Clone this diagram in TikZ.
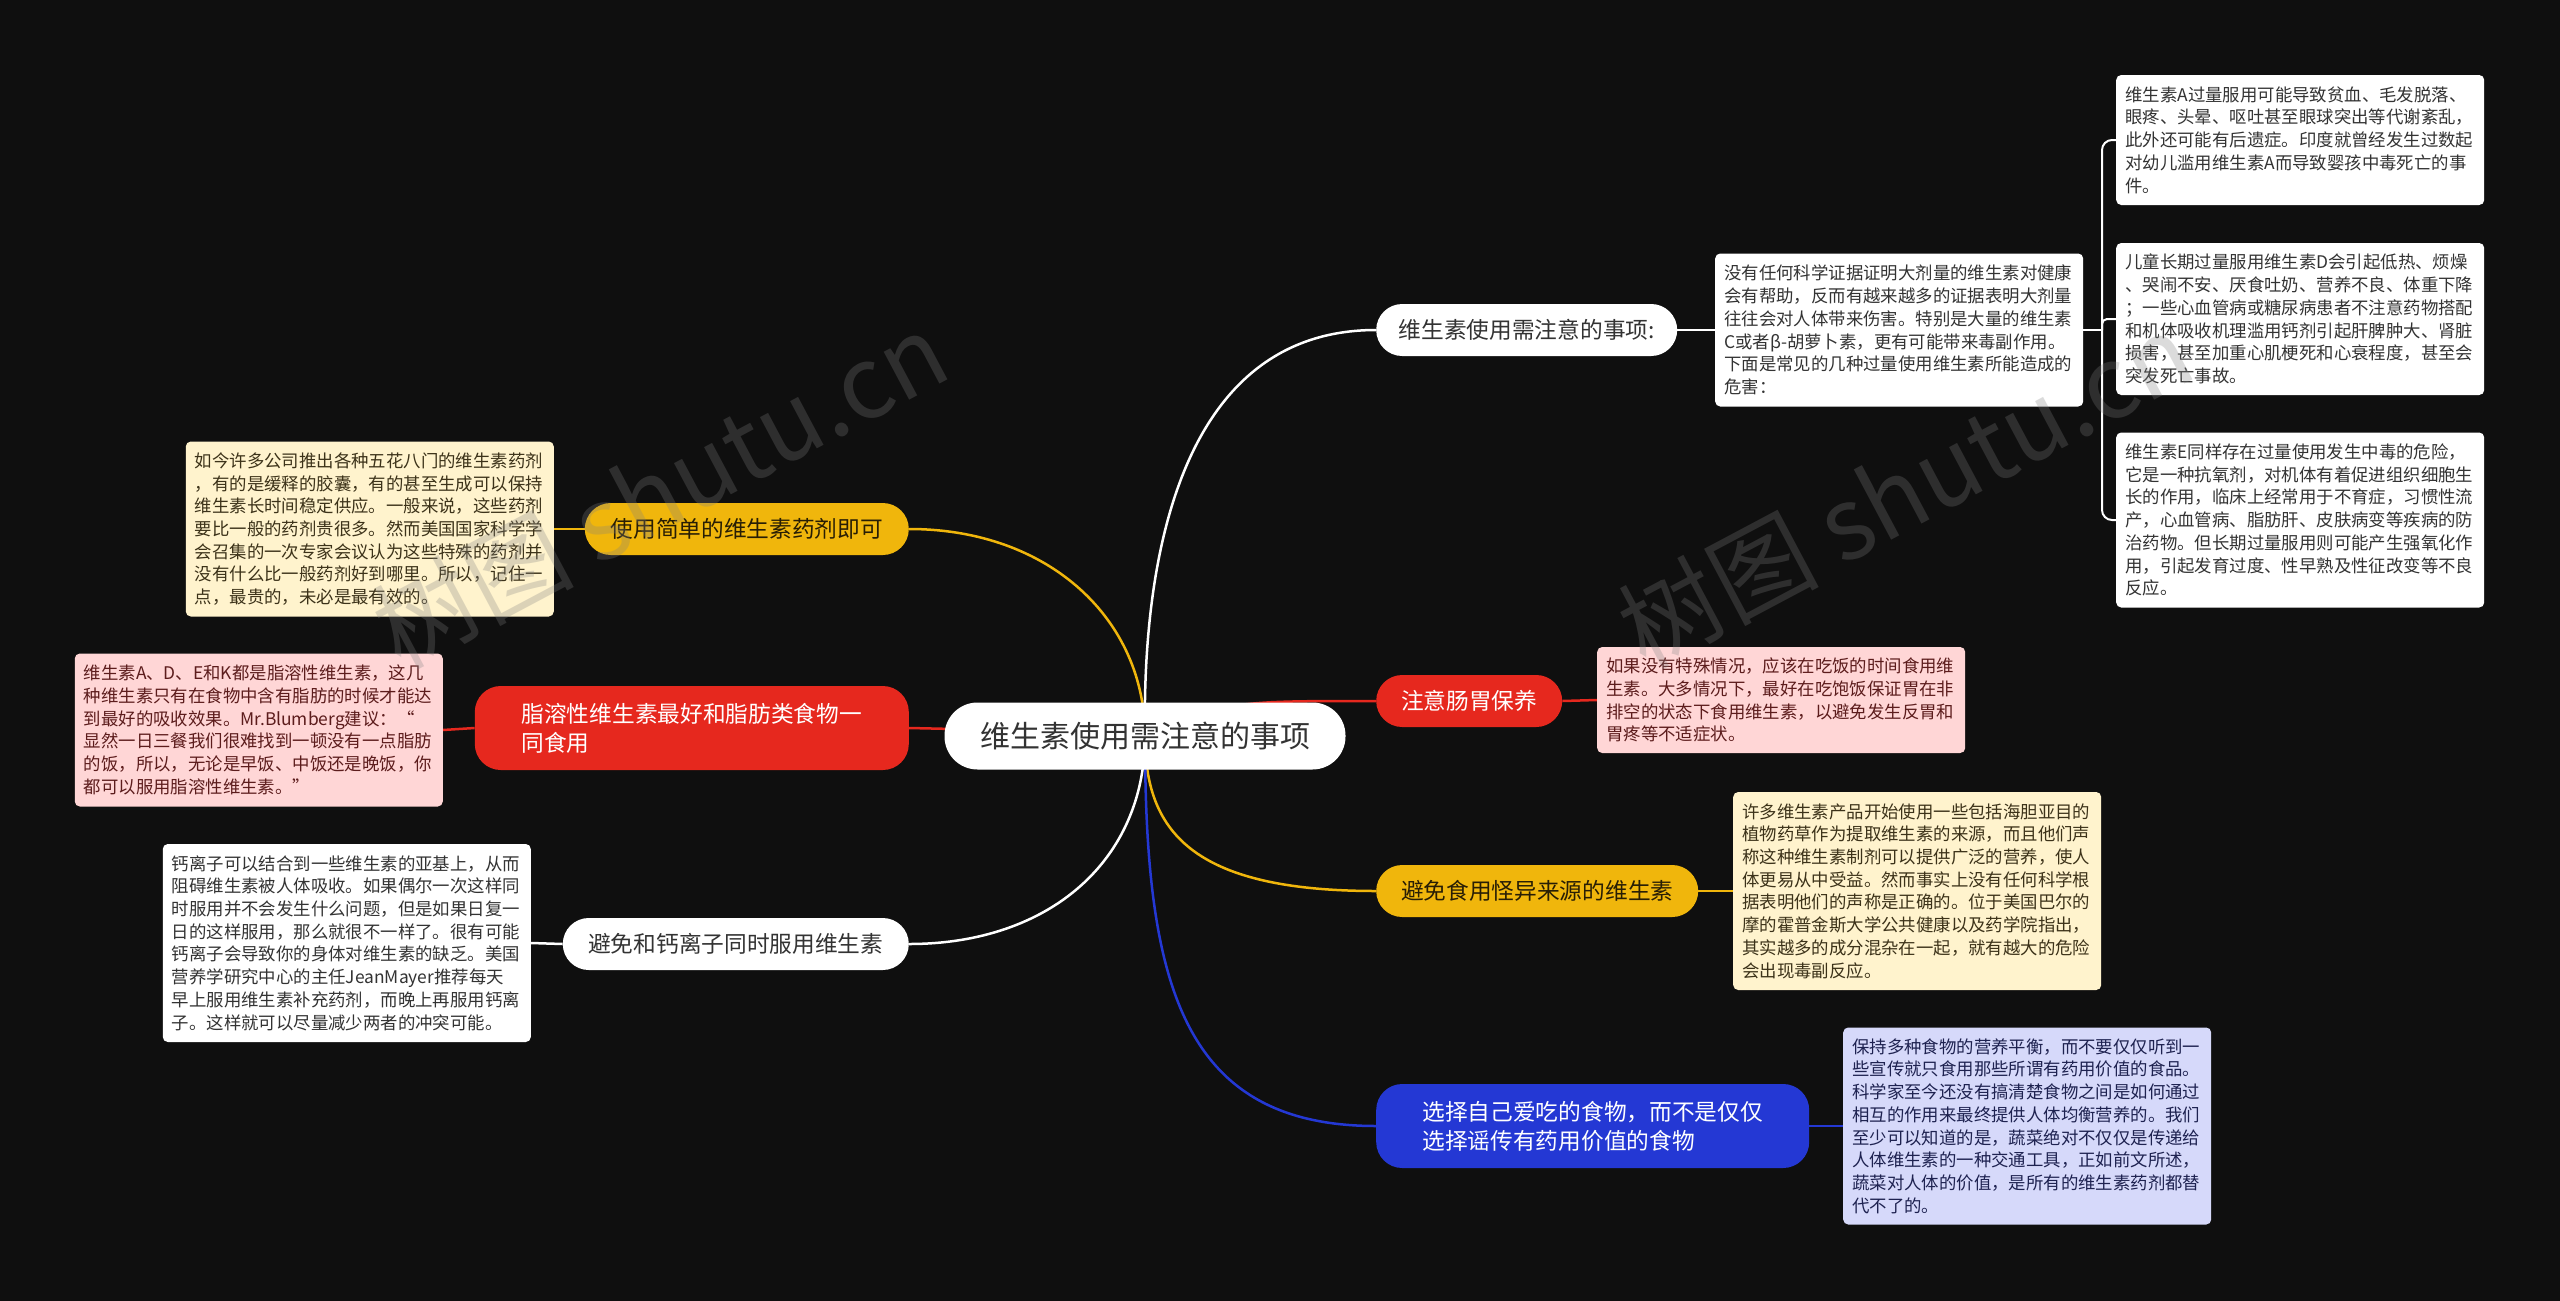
\documentclass[tikz,border=0pt]{standalone}
\usepackage{fontspec}
\setmainfont{Noto Sans CJK SC}
\definecolor{bgc}{RGB}{15,15,15}
\definecolor{redc}{RGB}{230,40,30}
\definecolor{yelc}{RGB}{240,182,12}
\definecolor{bluec}{RGB}{36,56,212}
\definecolor{txtd}{RGB}{51,51,51}
\definecolor{txty}{RGB}{40,30,5}
\definecolor{pinkc}{RGB}{255,214,214}
\definecolor{creamc}{RGB}{255,243,205}
\definecolor{lavc}{RGB}{214,217,250}
\definecolor{txtpink}{RGB}{92,28,28}
\definecolor{txtcream}{RGB}{60,50,25}
\definecolor{txtlav}{RGB}{30,34,80}
\pgfdeclarelayer{bg}
\pgfsetlayers{bg,main}
\tikzset{
  pill/.style={rounded corners=26pt, minimum height=52pt, inner sep=0pt,
    font=\fontsize{22.7pt}{29pt}\selectfont, align=center},
  card/.style={rounded corners=5pt, text width=350pt, inner xsep=9pt, inner ysep=0pt,
    align=left, font=\fontsize{17.4pt}{22.7pt}\selectfont},
  conn/.style={line width=2.5pt},
  brk/.style={line width=2pt, white},
  wmark/.style={rotate=28, font=\fontsize{100pt}{100pt}\selectfont, text=gray, opacity=0.28},
}
\begin{document}
\begin{tikzpicture}[x=1pt,y=-1pt]
\useasboundingbox (0,0) rectangle (2560,1301);
% center
\node[pill, fill=white, text=txtd, minimum width=401pt, minimum height=67pt, rounded corners=33pt,
  font=\fontsize{30pt}{36pt}\selectfont] (c) at (1145,736) {维生素使用需注意的事项};
% right branches
\node[pill, fill=white, text=txtd, minimum width=301pt, anchor=west] (b1) at (1376,330) {维生素使用需注意的事项:};
\node[pill, fill=redc, text=white, minimum width=186pt, anchor=west] (b2) at (1376,701) {注意肠胃保养};
\node[pill, fill=yelc, text=txty, minimum width=322pt, anchor=west] (b3) at (1376,891) {避免食用怪异来源的维生素};
\node[pill, fill=bluec, text=white, minimum width=433pt, minimum height=84pt, anchor=west, align=left] (b4) at (1376,1126) {选择自己爱吃的食物，而不是仅仅\\选择谣传有药用价值的食物};
% left branches
\node[pill, fill=yelc, text=txty, minimum width=324pt, anchor=east] (b5) at (909,529) {使用简单的维生素药剂即可};
\node[pill, fill=redc, text=white, minimum width=434pt, minimum height=84pt, anchor=east, align=left] (b6) at (909,728) {脂溶性维生素最好和脂肪类食物一\\同食用};
\node[pill, fill=white, text=txtd, minimum width=346pt, anchor=east] (b7) at (909,944) {避免和钙离子同时服用维生素};
% cards right
\node[card, fill=white, text=txtd, minimum height=153pt, anchor=west] (R1) at (1715,330) {没有任何科学证据证明大剂量的维生素对健康\\会有帮助，反而有越来越多的证据表明大剂量\\往往会对人体带来伤害。特别是大量的维生素\\C或者β-胡萝卜素，更有可能带来毒副作用。\\下面是常见的几种过量使用维生素所能造成的\\危害：};
\node[card, fill=white, text=txtd, minimum height=130pt, anchor=west] (R1a) at (2116,140) {维生素A过量服用可能导致贫血、毛发脱落、\\眼疼、头晕、呕吐甚至眼球突出等代谢紊乱，\\此外还可能有后遗症。印度就曾经发生过数起\\对幼儿滥用维生素A而导致婴孩中毒死亡的事\\件。};
\node[card, fill=white, text=txtd, minimum height=152pt, anchor=west] (R1b) at (2116,319) {儿童长期过量服用维生素D会引起低热、烦燥\\、哭闹不安、厌食吐奶、营养不良、体重下降\\；一些心血管病或糖尿病患者不注意药物搭配\\和机体吸收机理滥用钙剂引起肝脾肿大、肾脏\\损害，甚至加重心肌梗死和心衰程度，甚至会\\突发死亡事故。};
\node[card, fill=white, text=txtd, minimum height=175pt, anchor=west] (R1c) at (2116,520) {维生素E同样存在过量使用发生中毒的危险，\\它是一种抗氧剂，对机体有着促进组织细胞生\\长的作用，临床上经常用于不育症，习惯性流\\产，心血管病、脂肪肝、皮肤病变等疾病的防\\治药物。但长期过量服用则可能产生强氧化作\\用，引起发育过度、性早熟及性征改变等不良\\反应。};
\node[card, fill=pinkc, text=txtpink, minimum height=106pt, anchor=west] (R2) at (1597,700) {如果没有特殊情况，应该在吃饭的时间食用维\\生素。大多情况下，最好在吃饱饭保证胃在非\\排空的状态下食用维生素，以避免发生反胃和\\胃疼等不适症状。};
\node[card, fill=creamc, text=txtcream, minimum height=198pt, anchor=west] (R3) at (1733,891) {许多维生素产品开始使用一些包括海胆亚目的\\植物药草作为提取维生素的来源，而且他们声\\称这种维生素制剂可以提供广泛的营养，使人\\体更易从中受益。然而事实上没有任何科学根\\据表明他们的声称是正确的。位于美国巴尔的\\摩的霍普金斯大学公共健康以及药学院指出，\\其实越多的成分混杂在一起，就有越大的危险\\会出现毒副反应。};
\node[card, fill=lavc, text=txtlav, minimum height=197pt, anchor=west] (R4) at (1843,1126) {保持多种食物的营养平衡，而不要仅仅听到一\\些宣传就只食用那些所谓有药用价值的食品。\\科学家至今还没有搞清楚食物之间是如何通过\\相互的作用来最终提供人体均衡营养的。我们\\至少可以知道的是，蔬菜绝对不仅仅是传递给\\人体维生素的一种交通工具，正如前文所述，\\蔬菜对人体的价值，是所有的维生素药剂都替\\代不了的。};
% cards left
\node[card, fill=creamc, text=txtcream, minimum height=175pt, anchor=east] (L5) at (554,529) {如今许多公司推出各种五花八门的维生素药剂\\，有的是缓释的胶囊，有的甚至生成可以保持\\维生素长时间稳定供应。一般来说，这些药剂\\要比一般的药剂贵很多。然而美国国家科学学\\会召集的一次专家会议认为这些特殊的药剂并\\没有什么比一般药剂好到哪里。所以，记住一\\点，最贵的，未必是最有效的。};
\node[card, fill=pinkc, text=txtpink, minimum height=153pt, anchor=east] (L6) at (443,730) {维生素A、D、E和K都是脂溶性维生素，这几\\种维生素只有在食物中含有脂肪的时候才能达\\到最好的吸收效果。Mr.Blumberg建议：“\\显然一日三餐我们很难找到一顿没有一点脂肪\\的饭，所以，无论是早饭、中饭还是晚饭，你\\都可以服用脂溶性维生素。”};
\node[card, fill=white, text=txtd, minimum height=198pt, anchor=east] (L7) at (531,943) {钙离子可以结合到一些维生素的亚基上，从而\\阻碍维生素被人体吸收。如果偶尔一次这样同\\时服用并不会发生什么问题，但是如果日复一\\日的这样服用，那么就很不一样了。很有可能\\钙离子会导致你的身体对维生素的缺乏。美国\\营养学研究中心的主任JeanMayer推荐每天\\早上服用维生素补充药剂，而晚上再服用钙离\\子。这样就可以尽量减少两者的冲突可能。};
\coordinate (bx) at (2102,330);
% watermarks
\node[wmark] (w1) at (660,490) {树图 shutu.cn};
\node[wmark] (w2) at (1905,490) {树图 shutu.cn};
\begin{pgfonlayer}{bg}
\fill[bgc] (0,0) rectangle (2560,1301);
\draw[conn, white] (c.center) .. controls (1142,560) and (1180,330) .. (b1.west);
\draw[conn, redc] (c.center) .. controls (1230,701) .. (b2.west);
\draw[conn, yelc] (c.center) .. controls (1145,830) and (1190,891) .. (b3.west);
\draw[conn, bluec] (c.center) .. controls (1145,980) and (1180,1126) .. (b4.west);
\draw[conn, yelc] (c.center) .. controls (1145,620) and (1050,529) .. (b5.east);
\draw[conn, redc] (c.center) .. controls (1000,730) .. (b6.east);
\draw[conn, white] (c.center) .. controls (1145,860) and (1050,944) .. (b7.east);
\draw[conn, white] (b1.east) -- (R1.west);
\draw[conn, redc] (b2.east) -- (R2.west);
\draw[conn, yelc] (b3.east) -- (R3.west);
\draw[conn, bluec] (b4.east) -- (R4.west);
\draw[conn, yelc] (b5.west) -- (L5.east);
\draw[conn, redc] (b6.west) -- (L6.east);
\draw[conn, white] (b7.west) -- (L7.east);
\draw[brk] (R1.east) -- (bx);
\draw[brk, rounded corners=10pt] (R1a.west) -| (bx) |- (R1c.west);
\draw[brk, rounded corners=5pt] (bx) |- (R1b.west);
\end{pgfonlayer}
\end{tikzpicture}
\end{document}
